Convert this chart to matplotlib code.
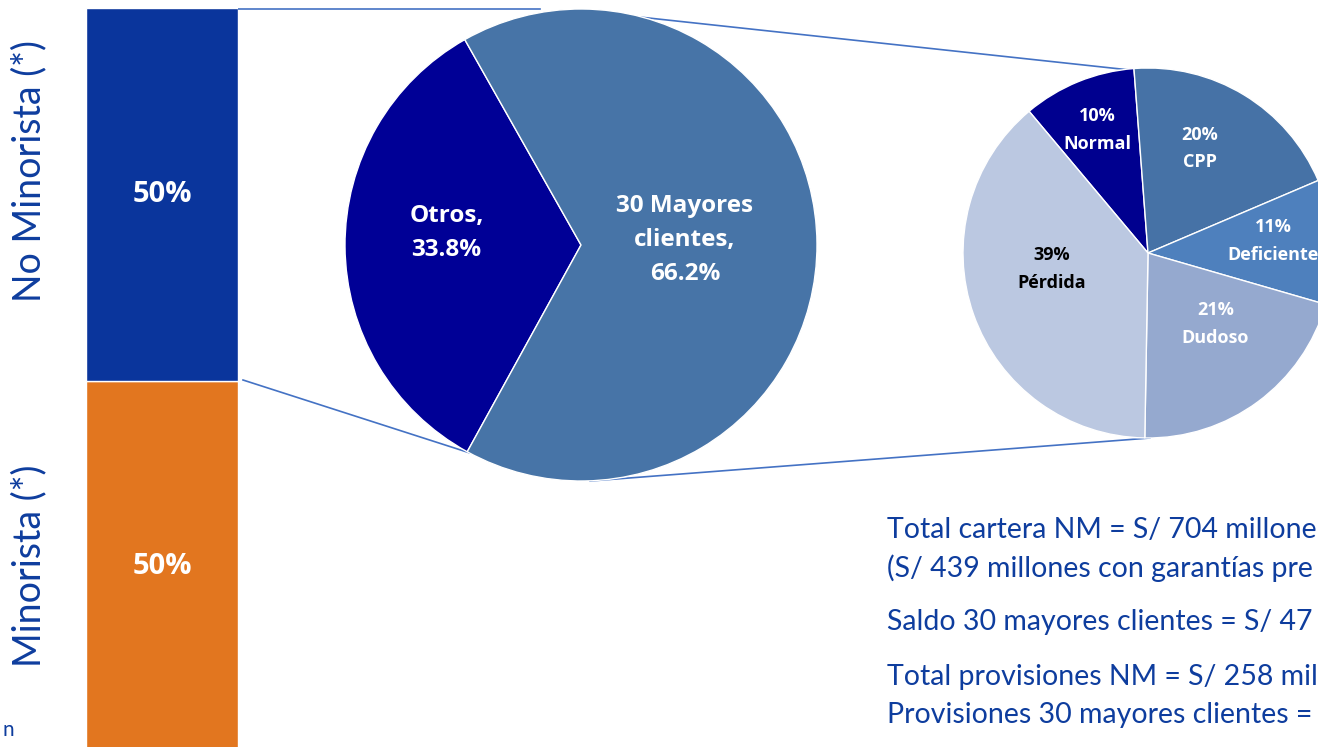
import matplotlib.pyplot as plt
import numpy as np

# data
bar_labels = ['Minorista (*)', 'No Minorista (*)']
bar_values = [50, 50]
bar_colors = ['#E2761F', '#0A359C']

mid_labels = ['Otros,\n33.8%', '30 Mayores\nclientes,\n66.2%']
mid_values = [33.8, 66.2]
mid_colors = ['#000096', '#4774A7']

right_names = ['Normal', 'CPP', 'Deficiente', 'Dudoso', 'Pérdida']
right_values = [10, 20, 11, 21, 39]
right_colors = ['#00008F', '#4672A6', '#4E80BD', '#95A9CF', '#BBC8E1']

# only the part of each note that shows inside the slide
notes = ['Total cartera NM = S/ 704 millone',
         '(S/ 439 millones con garantías pre',
         'Saldo 30 mayores clientes = S/ 47',
         'Total provisiones NM = S/ 258 mil',
         'Provisiones 30 mayores clientes =']

plt.rcParams['font.family'] = ['Lato', 'DejaVu Sans']
bold_font = ['Open Sans', 'DejaVu Sans']
W, H = 1318, 747
txt_blue = '#0E3D9E'
line_blue = '#4472C4'

fig = plt.figure(figsize=(W / 100, H / 100), dpi=100)

def px_axes(x0, y0, x1, y1):
    # axes from pixel box (top-left origin)
    return fig.add_axes([x0 / W, 1 - y1 / H, (x1 - x0) / W, (y1 - y0) / H])

# overlay for connector lines and free text
ov = fig.add_axes([0, 0, 1, 1])
ov.set_xlim(0, W)
ov.set_ylim(H, 0)
ov.axis('off')
ov.plot([238, 540], [9, 9], color=line_blue, lw=1.2)
ov.plot([243, 470], [380, 453], color=line_blue, lw=1.2)
ov.plot([630, 1130], [16, 70], color=line_blue, lw=1.2)
ov.plot([590, 1150], [481, 438], color=line_blue, lw=1.2)

# stacked bar
axb = px_axes(86, 8, 238, 753)
bottom = 0
for v, c in zip(bar_values, bar_colors):
    axb.bar(0, v, bottom=bottom, width=1, color=c, edgecolor='white', linewidth=1)
    axb.text(0, bottom + v / 2, f'{v}%', ha='center', va='center', family=bold_font,
             color='white', fontsize=21, fontweight='bold')
    bottom += v
axb.set_xlim(-0.5, 0.5)
axb.set_ylim(0, sum(bar_values))
axb.axis('off')

ov.text(29, 171, bar_labels[1], rotation=90, ha='center', va='center', color=txt_blue, fontsize=27)
ov.text(29, 566, bar_labels[0], rotation=90, ha='center', va='center', color=txt_blue, fontsize=27)
ov.text(3, 730, 'n', ha='left', va='center', color=txt_blue, fontsize=15)

# middle pie
axm = px_axes(581 - 236, 245 - 236, 581 + 236, 245 + 236)
wedges, _ = axm.pie(mid_values, colors=mid_colors, startangle=119.5, counterclock=True,
                    wedgeprops=dict(edgecolor='white', linewidth=1))
axm.set_xlim(-1, 1)
axm.set_ylim(-1, 1)
axm.set_aspect('equal')
mid_pos = [(-0.57, 0.05), (0.44, 0.02)]
for lab, (x, y) in zip(mid_labels, mid_pos):
    axm.text(x, y, lab, ha='center', va='center', color='white', fontsize=17.5,
             fontweight='bold', family=bold_font, linespacing=1.55)

# right pie (partly off the figure)
r = 185
axr = px_axes(1148 - r, 253 - r, 1148 + r, 253 + r)
wedges, _ = axr.pie(right_values, colors=right_colors, startangle=130, counterclock=False,
                    wedgeprops=dict(edgecolor='white', linewidth=1))
axr.set_xlim(-1, 1)
axr.set_ylim(-1, 1)
axr.set_aspect('equal')
lab_r = [0.72, 0.63, 0.68, 0.53, 0.53]
lab_shift = [0, 5, 2, 7, -10]
for w, name, v, rr, sh in zip(wedges, right_names, right_values, lab_r, lab_shift):
    ang = np.deg2rad((w.theta1 + w.theta2) / 2 + sh)
    col = 'black' if name == 'Pérdida' else 'white'
    axr.text(rr * np.cos(ang), rr * np.sin(ang), f'{v}%\n{name}', ha='center', va='center',
             color=col, fontsize=13, fontweight='bold', family=bold_font, linespacing=1.7)

# notes
note_y = [530, 568, 622, 677, 715]
for t, y in zip(notes, note_y):
    ov.text(887, y, t, ha='left', va='center', color=txt_blue, fontsize=20.5)

fig.savefig('out.png', dpi=100)
